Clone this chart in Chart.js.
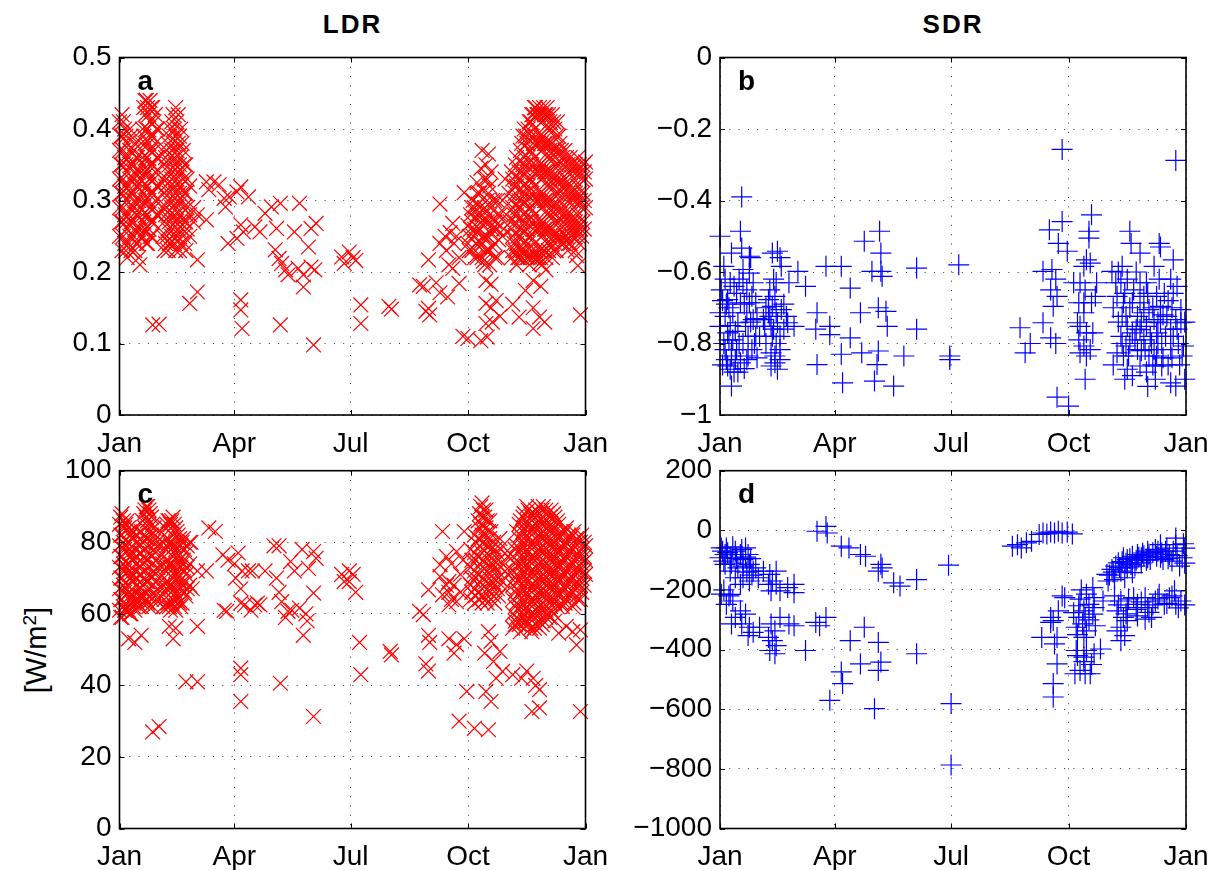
<!DOCTYPE html>
<html>
<head>
<meta charset="utf-8">
<title>LDR / SDR</title>
<script src="https://cdn.jsdelivr.net/npm/chart.js@4.4.0/dist/chart.umd.min.js"></script>
<style>
  body { margin: 0; background: #fff; width: 1222px; height: 870px; position: relative; overflow: hidden; font-family: "Liberation Sans", Arial, sans-serif; }
  canvas { position: absolute; }
  .ttl { position: absolute; top: 11px; transform: translateX(-50%); font-weight: bold; font-size: 26px; line-height: 26px; letter-spacing: 2px; }
  .ylab { position: absolute; left: 36px; top: 650px; transform: translate(-50%, -50%) rotate(-90deg); font-size: 29px; line-height: 29px; white-space: nowrap; }
  .ylab sup { font-size: 19px; line-height: 0; vertical-align: 0.5em; }
</style>
</head>
<body>
<div class="ttl" style="left:352.5px">LDR</div>
<div class="ttl" style="left:953px">SDR</div>
<div class="ylab">[W/m<sup>2</sup>]</div>
<canvas id="panelA" width="630" height="470" style="left:0;top:0"></canvas>
<canvas id="panelB" width="622" height="470" style="left:600px;top:0"></canvas>
<canvas id="panelC" width="630" height="430" style="left:0;top:440px"></canvas>
<canvas id="panelD" width="622" height="430" style="left:600px;top:440px"></canvas>
<script>
// x axis: day of year
const monthDays = [0, 90, 181, 273, 365];
const monthLabels = ['Jan', 'Apr', 'Jul', 'Oct', 'Jan'];

const ticksA = [0, 0.1, 0.2, 0.3, 0.4, 0.5];
const ticksB = [-1, -0.8, -0.6, -0.4, -0.2, 0];
const ticksC = [0, 20, 40, 60, 80, 100];
const ticksD = [-1000, -800, -600, -400, -200, 0, 200];

// each entry: [day, value, value, ...]
const ldrRatio = [
  [0,.41,.37,.33,.29,.25],[1,.39,.35,.31,.27],[2,.42,.39,.35,.31,.27,.23],[3,.41,.37,.33,.29,.25],
  [4,.40,.36,.32,.28,.24],[5,.39,.35,.31,.27,.23],[6,.38,.34,.30,.26,.22],[7,.36,.32,.28,.24],
  [8,.40,.37,.33,.29,.25],[9,.39,.35,.31,.27,.23],[10,.35,.31,.27],[11,.37,.33,.29,.25],
  [12,.38,.34,.30,.26,.23],[13,.36,.32,.28,.24],[14,.36,.32,.28,.24],[15,.34,.30,.26,.22],
  [16,.33,.29,.25,.21],[17,.38,.34,.30,.26],
  [18,.40,.36,.32,.28,.25],[19,.43,.39,.35,.31,.27],[20,.44,.42,.38,.34,.30,.26],
  [21,.44,.40,.36,.32,.28,.24],[22,.43,.40,.36,.32,.28,.24],[23,.42,.38,.34,.30,.26],
  [24,.44,.41,.37,.33,.29,.25],[25,.43,.39,.35,.31,.27,.25],[26,.43,.39,.35,.31,.27,.126],
  [27,.41,.37,.33,.29],[28,.42,.38,.34,.30],[29,.40,.36,.32,.28],
  [30,.40,.36,.32,.28],[31,.127],
  [34,.33,.29,.25],[35,.35,.31,.27,.23],[36,.36,.32,.28,.24],[37,.37,.33,.29,.25],
  [38,.38,.34,.30,.26,.23],[39,.39,.35,.31,.27,.24],[40,.40,.36,.32,.28,.24],
  [41,.41,.37,.33,.29,.25],[42,.42,.38,.34,.30,.26],[43,.40,.36,.32,.28,.24],
  [44,.43,.39,.35,.31,.27,.23],[45,.41,.37,.33,.29,.25],[46,.42,.38,.34,.30,.26],
  [47,.39,.35,.31,.27,.23],[48,.40,.36,.32,.28,.24],[49,.38,.34,.30,.26],[50,.37,.33,.29,.25],
  [51,.35,.31,.27,.24],[52,.35,.31,.27,.23],[53,.33,.29,.26],[55,.32,.28,.25,.156],[58,.29,.27],[61,.28,.217,.172],
  [68,.326,.273],[70,.315],[74,.326],[78,.322],[82,.303],[83,.291],[85,.24],[86,.305],
  [92,.312,.247],[95,.319,.266,.161,.147],[96,.121],[97,.256],[101,.305],[106,.263],
  [110,.256],[114,.282],[119,.291],[122,.231],[123,.261],[125,.219],[126,.296,.126],
  [127,.212],[130,.203],[132,.196],[137,.256],[140,.205],[141,.296],[144,.196,.179],
  [148,.235],[150,.261,.207],[152,.098],[153,.203],[154,.268],[174,.221],[176,.212],
  [180,.228],[183,.22],[185,.216],[189,.154,.128],[211,.152],[213,.148],
  [235,.182],[238,.18],[240,.145],[242,.217,.149],[243,.14],
  [248,.185],[251,.295,.24,.171],[255,.25],[256,.23],[257,.165],[258,.21],[259,.255],
  [261,.268,.205],[262,.24],[264,.25],[266,.184,.22],[269,.11],[270,.311],
  [273,.107,.265,.24],[274,.25,.23],[275,.28,.26],[276,.27,.23,.29],[277,.30,.25],
  [278,.26,.29,.22],[279,.275,.24],[280,.325,.255,.22,.28,.31],
  [281,.295],[282,.235,.26,.29,.31],[283,.345,.27,.104],[284,.37,.315,.24,.22,.28],[285,.25,.215],
  [286,.33,.29,.25,.27,.21],[287,.35,.23,.128,.156,.188],[288,.27,.109,.23,.25,.30,.33],
  [289,.365,.31],[290,.255,.21,.28,.23,.32],[291,.34,.29,.15,.183],
  [292,.235,.13,.26,.30],[293,.275],[294,.22,.24,.27,.30],[295,.26,.16],[296,.30,.22,.26,.28],
  [297,.245],[298,.28,.138],
  [300,.30,.25],[301,.26],[302,.33],[303,.28],[305,.31],[306,.27],
  [307,.34,.30,.26,.22],[308,.155,.33,.29,.25,.23],[309,.32,.28,.24],[310,.35,.31,.27,.23],
  [311,.36,.32,.28,.24,.21],[312,.33,.29,.25,.22],[313,.34,.30,.26,.22,.137],[314,.37,.33,.29,.25,.23],
  [315,.38,.34,.30,.26,.22],[316,.39,.35,.31,.27,.23],[317,.40,.36,.32,.28,.24],
  [318,.174,.39,.35,.31,.27,.23],[319,.38,.34,.30,.26,.22],[320,.40,.36,.32,.28,.24,.22],
  [321,.41,.37,.33,.29,.25,.21],[322,.41,.37,.33,.29,.25,.22],[323,.42,.39,.35,.31,.27,.23],
  [324,.121,.15,.188,.42,.38,.34,.30,.26,.22],
  [325,.43,.40,.36,.32,.28,.24],[326,.43,.39,.35,.31,.27,.23],[327,.42,.38,.34,.30,.26,.22],
  [328,.42,.38,.34,.30,.26,.22],[329,.43,.39,.35,.31,.27,.23,.212,.137],
  [330,.18,.42,.38,.34,.30,.26,.22],[331,.41,.37,.33,.29,.25,.21],[332,.43,.39,.35,.31,.27,.23],
  [333,.42,.38,.34,.30,.26,.23,.13],[334,.203,.42,.38,.34,.30,.26,.22],
  [335,.43,.40,.36,.32,.28,.24],[336,.42,.38,.34,.30,.26,.23],[337,.41,.37,.33,.29,.25],
  [338,.40,.36,.32,.28,.24],[339,.42,.38,.34,.30,.26,.22],[340,.41,.37,.33,.29,.25,.23],
  [341,.40,.36,.32,.28,.24],[342,.39,.35,.31,.27,.23],[343,.41,.37,.33,.29,.25],
  [344,.39,.35,.31,.27,.25],[345,.38,.34,.30,.26],[346,.37,.33,.29,.25],
  [347,.36,.32,.28,.24],[348,.35,.31,.27,.24],[349,.37,.33,.29,.25],[350,.36,.32,.28,.25],
  [351,.35,.31,.27,.23],[352,.34,.30,.26,.24],[353,.36,.32,.28,.24],[354,.35,.31,.27,.25],
  [355,.34,.30,.26],[356,.33,.29,.25],[357,.35,.31,.27,.23],[358,.223,.34,.30,.26],
  [359,.36,.32,.28,.25,.209],[360,.35,.31,.27,.24],
  [361,.34,.30,.26,.14],[362,.33,.29,.25],[363,.35,.31,.27],[364,.34,.30,.26],[365,.354,.33,.29]
];

const sdrRatio = [
  [0,-.50,-.714,-.752],[1,-.65],[2,-.68,-.86],[3,-.80,-.584],[4,-.62,-.724,-.817],[5,-.69,-.845],
  [6,-.77,-.677,-.863],[7,-.70,-.79],[8,-.63,-.75,-.872],[9,-.547,-.817,-.919,-.835],[10,-.714,-.79],
  [11,-.64,-.88],[12,-.766,-.845],[13,-.66,-.817],[14,-.742,-.88],[15,-.62,-.80],[16,-.486,-.686,-.854],
  [17,-.39,-.533],[18,-.593,-.80,-.63],[19,-.69,-.87],[20,-.752],[21,-.65,-.714,-.845],[22,-.78,-.835],
  [23,-.603,-.686,-.556],[24,-.74,-.56],[25,-.668,-.817],[26,-.63,-.733],[27,-.80],[28,-.686,-.78],
  [29,-.73,-.84],[31,-.78],[34,-.733],[35,-.752],[36,-.70,-.80],
  [38,-.677,-.714],[39,-.724,-.65],[40,-.752,-.826,-.863],[41,-.547,-.696,-.78],[42,-.76,-.62],
  [43,-.668,-.854,-.835],[44,-.714,-.80,-.63],[45,-.542,-.742,-.872],[47,-.56,-.817,-.845,-.78],
  [48,-.584,-.705],[50,-.69,-.76],
  [52,-.724],[53,-.742],[54,-.63],[58,-.752],[61,-.598],[67,-.64],
  [75,-.76],[76,-.714,-.859],[83,-.584],[86,-.752,-.775],[95,-.584,-.83],[96,-.91],
  [102,-.645,-.784],[110,-.714],[111,-.826],[113,-.514],[119,-.598],[121,-.905],[123,-.859],
  [124,-.70,-.821],[125,-.486],[126,-.547,-.598],[127,-.612],[130,-.71],[131,-.752],[136,-.919],
  [144,-.835],[154,-.589,-.76],
  [180,-.835,-.845],[187,-.58],
  [235,-.756],[239,-.826],[243,-.80],[253,-.598,-.742],[258,-.482],[259,-.65,-.784],[260,-.593],
  [261,-.696],[263,-.62,-.80],[264,-.668,-.95],[265,-.52],[268,-.257,-.459],[272,-.542],[273,-.975],
  [277,-.63],[280,-.742],[281,-.686,-.79],[282,-.63,-.752,-.826],[285,-.584,-.714,-.807,-.686],
  [286,-.65,-.90],[287,-.566,-.77,-.835],[289,-.486,-.505],[290,-.817,-.575],[291,-.44,-.686],
  [292,-.77],[294,-.668],[295,-.63],
  [307,-.598],[308,-.70,-.86],[310,-.63],[311,-.668,-.826],[312,-.74,-.60],[314,-.63,-.78],
  [315,-.724,-.584,-.80],[316,-.686,-.835],[317,-.66,-.90],
  [318,-.807,-.724],[319,-.752,-.872,-.62],[320,-.835],[321,-.486,-.80,-.70],[322,-.52],[323,-.77,-.89,-.686],
  [324,-.65],[325,-.79],[326,-.76,-.60],[327,-.724,-.817],[329,-.547,-.63,-.686,-.863,-.761],
  [330,-.82,-.74],[332,-.714,-.79,-.668],
  [333,-.817],[334,-.752,-.88,-.63],[335,-.66,-.92],[336,-.835,-.705],[337,-.78],[338,-.80],
  [339,-.70,-.86],[340,-.817,-.733,-.584],
  [341,-.863,-.90],[342,-.77,-.668,-.835],[343,-.74,-.80],[344,-.52,-.62],[345,-.53,-.696,-.742],
  [346,-.80,-.863],[347,-.84,-.72],
  [348,-.66],[349,-.78],[350,-.724],[351,-.68,-.86],[353,-.62,-.76,-.91,-.817],[354,-.70,-.84],
  [355,-.566,-.66,-.78],[357,-.288,-.919,-.733],[358,-.76,-.64],[359,-.80],[360,-.86],
  [361,-.742,-.705],[362,-.835],[363,-.807],[364,-.74,-.90]
];

const ldrFlux = [
  [0,85,79,73,67,61],[1,87,82,76,70,64,59],[2,88,82,76,70,64,59],[3,86,80,74,68,62],
  [4,84,78,72,66,61],[5,85,79,73,67,61],[6,86,80,74,68,62],[7,53,84,78,72,66,61],
  [8,83,77,71,65,60],[9,82,76,70,64,60],[10,81,75,69,63],[11,83,77,71,65,62],
  [12,84,78,72,66,61,52],[13,82,76,70,64],[14,80,74,68,63],[15,79,73,67,62],
  [16,77,71,65],[17,54,83,77,71,65,62],[18,86,80,74,68,63],[19,88,82,76,70,65],
  [20,89,84,78,72,66],[21,90,87,81,75,69,64],[22,90,86,81,75,69,63],[23,89,85,79,73,67,62],
  [24,88,83,77,71,65],[25,87,82,76,70,64],[26,85,80,74,68,62,27],[27,84,78,72,66],
  [28,82,77,71,65],[29,80,75,69,64],[30,79,73,67],[31,28.5],
  [34,80,74,68,62],[35,82,76,70,64],[36,84,78,72,66],[37,85,79,73,67,62],
  [38,86,81,75,69,63],[39,56.5,86,80,74,68,62],[40,85,79,73,67,61],[41,86,80,74,68,63],
  [42,87,82,76,70,64,53],[43,85,79,73,67,62],[44,84,78,72,66,61,56],[45,83,77,71,65],
  [46,82,76,70,64],[47,81,75,69,63],[48,79,73,67,62],[49,80,74,68,63],
  [50,81,75,69],[51,78,72,66],[52,77,71,65,41],[53,79,73,67],[55,80,74,68],[56,80],[57,67],[61,72,56.5,41],
  [68,72],[70,84],[75,83],[81,76.5],[82,61],[84,60.7],[85,75],[90,74],[91,70],[93,77],
  [95,67,63,44.8,43,35.5],[96,72],[98,62.5],[101,72],[103,61],[104,72],[106,62.5],[108,63],
  [110,62.5],[114,72],[121,79],[123,70],[125,79,66],[126,40.6],[127,63.4],[130,59],
  [132,60.7],[134,74.6],[135,61],[137,72],[141,61.6],[143,78],[144,54],[146,60],[147,58],
  [148,72.7],[152,77.4,65.8,31.3],[154,75.5],[174,71],[176,69],
  [180,72,69],[183,71],[185,66],[188,52],[189,43],[212,49.5],[213,48.5],
  [235,60.7],[238,59.8],[240,46],[242,66.7,54,44],[243,52],[251,73.7,70.4],[253,83,65.3],
  [256,76,68],[258,53,66,62.5,69],[260,74,64],[262,49,68],[264,51.4,77.4,63.4],[266,30],
  [267,71,66],[269,75],[270,83,53],[272,38.3],[278,28],[286,49],[287,38.3],[289,27.6,55],
  [291,35.5,52.3],[293,46.7],[295,42],[298,49.5],[300,43.9],
  [275,78,73,68,64],[276,75,70,66],[278,82,77,72,67,63],[279,80,75,70,65],
  [281,86,81,76,71,66],[282,88,84,79,74,69,64],[283,90,85],[284,91,87,82,77,72,67,63],
  [285,89,80,75,70,65],[286,87,82],[287,89,84,79,74,69,64],[288,86,77,72,67,63],[289,83,79],
  [290,86,81,76,71,66],[291,83,78,73,68,64],[292,74,69],[293,80,75,70,65],[294,78,73,68,63],
  [296,77,72,67],[297,75,70,65],[298,81],[300,79,74,69],[302,77,72,67],[304,76,71],
  [308,76,72,68,64,60,56,43],[310,57,78,74,70,66,62,58],[311,83,79,75,71,67,63,59],
  [313,85,81,77,73,69,65,61,57],[314,86,82,78,74,70,66,62,58,55],
  [315,42],[316,87,83,79,75,71,67,63,59],[317,88,84,80,76,72,68,64,60,56],[318,58],
  [319,44,90,86,82,78,74,70,66,62,58],[320,89,85,81,77,73,69,65,61,57],
  [322,88,84,80,76,72,68,64,60,56],[323,87,83,79,75,71,67,63,59,55,32.7],[324,42],
  [325,88,84,80,76,72,68,64,60,56],[326,89,85,81,77,73,69,65,61,57,40],
  [328,90,86,82,78,74,70,66,62,58],[329,88,84,80,76,72,68,64,60,56,38.8,33.7],
  [331,89,85,81,77,73,69,65,61,57],[332,90,86,82,78,74,70,66,62,58],
  [334,89,85,81,77,73,69,65,61,59],[335,88,84,80,76,72,68,64,60],
  [337,87,83,79,75,71,67,63,59],[338,89,85,81,77,73,69,65,61],
  [340,88,84,80,76,72,68,64,60],[341,87,83,79,75,71,67,63,58],
  [343,86,82,78,74,70,66,62],[344,85,81,77,73,69,65,54.6],
  [346,83,79,75,71,67,63],[347,82,78,74,70,66,62],[349,83,79,75,71,67,63],
  [350,84,80,76,72,68,64,56.5],[352,82,78,74,70,66],[353,81,77,73,69,65],
  [355,55,82,78,74,70,66,62],[356,83,79,75,71,67,63],[358,51.3,81,77,73,69,65],
  [359,80,76,72,68,64],[361,55.5,32.7,80,76,72,68,64],[362,82,78,74,70,66],
  [364,80,76,72,68],[365,79,75,71]
];

const sdrFlux = [
  [0,-92],[1,-59,-214],[2,-70],[3,-103,-200],[4,-81,-114],[5,-59,-248],[6,-75],[7,-220],
  [8,-92,-137,-215],[9,-110,-314],[10,-55,-237],[12,-70,-159,-292],[13,-95],[14,-126],
  [16,-81,-181,-270],[17,-64,-314],[18,-98,-159,-120],[20,-59,-90,-281],[21,-140],[22,-81,-353],
  [23,-114,-170,-325],[24,-95],[25,-150],[26,-137,-342],[28,-126],[30,-159],[31,-325],[34,-137],
  [38,-181,-359],[39,-148,-403],[40,-203,-314],[41,-170,-370],[43,-337,-414],[44,-137,-181,-387],
  [47,-203,-292],[53,-192],[54,-314],[58,-209,-181,-320],[67,-403],[75,-309],[76,-3],[78,-320],
  [83,13,-292],[84,-9],[86,-570],[95,-53,-475],[96,-514],[101,-59],[102,-370],[110,-81,-448],
  [113,-325],[114,-87],[121,-598],[124,-137,-376,-470],[126,-114,-442],[127,-126],[136,-176],
  [141,-187],[154,-165,-414],
  [179,-117],[181,-581,-787],
  [229,-53],[233,-48],[236,-59],[240,-42],[244,-37],[250,-14],[253,-9],[256,-12],[259,-6],
  [262,-9],[265,-3],[268,-9],[272,-6],[276,-12],
  [252,-359],[259,-292,-309],[261,-303,-514,-559],[262,-381],[264,-359,-448],[265,-270],
  [268,-220],[270,-226],
  [277,-276],[278,-481],[279,-325,-403],[280,-350,-420],[281,-292,-253],[282,-231,-470],
  [283,-200],[284,-314],[285,-270,-359,-425,-440],[286,-292,-481],[287,-214,-337,-403],
  [289,-248,-300],[290,-481],[291,-450],[292,-192,-281],[293,-259,-226,-414],[294,-320],
  [298,-398],[300,-237],
  [303,-148],[304,-170],[305,-150],[307,-131],[308,-140],[309,-165,-220],[310,-120],
  [311,-270,-337],[312,-109,-250],[313,-125],[314,-137,-237,-325,-370],[315,-105],
  [316,-92,-292],[317,-159,-353],[318,-110,-280],[319,-98,-126,-259,-303],[320,-230],[321,-95],
  [322,-115],[323,-87,-142],[324,-226],[325,-120],[326,-100,-265],
  [327,-81,-248,-287],[328,-90],[330,-109,-92,-240],[331,-76],[332,-85],[333,-226,-298],[334,-100],
  [335,-70,-92,-259],[336,-80,-275],[337,-98],[338,-292],[339,-75,-250],[341,-64,-237],[342,-87],
  [343,-70,-230],[344,-214],[345,-48,-90],[346,-76],[347,-98],[348,-248],
  [349,-70],[350,-60,-245],[351,-95],[352,-81,-226],[354,-103,-220],[355,-70],[356,-203],
  [357,-48,-26,-248],[358,-85],[359,-260],[360,-120],[361,-237],
  [362,-92],[363,-45],[364,-110,-60,-250]
];

const tickFont = { family: '"Liberation Sans", Arial, sans-serif', size: 28 };

function toPoints(cols) {
  const pts = [];
  cols.forEach(c => {
    for (let i = 1; i < c.length; i++) pts.push({ x: c[0], y: c[i] });
  });
  return pts;
}

function fmt(v) {
  const s = String(Math.abs(Number(v.toFixed(2))));
  return v < 0 ? '\u2212' + s : s;
}

// box, inward ticks and panel letter
const frame = {
  id: 'frame',
  afterDatasetsDraw(chart, args, opts) {
    const { ctx, chartArea: a, scales: { x, y } } = chart;
    ctx.save();
    ctx.setLineDash([]);
    ctx.strokeStyle = '#000';
    ctx.lineWidth = 1;
    ctx.beginPath();
    x.ticks.forEach(t => {
      const px = Math.round(x.getPixelForValue(t.value)) + 0.5;
      ctx.moveTo(px, a.bottom); ctx.lineTo(px, a.bottom - 5);
      ctx.moveTo(px, a.top); ctx.lineTo(px, a.top + 5);
    });
    y.ticks.forEach(t => {
      const py = Math.round(y.getPixelForValue(t.value)) + 0.5;
      ctx.moveTo(a.left, py); ctx.lineTo(a.left + 5, py);
      ctx.moveTo(a.right, py); ctx.lineTo(a.right - 5, py);
    });
    ctx.stroke();
    ctx.lineWidth = 1.6;
    ctx.strokeRect(a.left, a.top, a.right - a.left, a.bottom - a.top);
    ctx.fillStyle = '#000';
    ctx.font = 'bold 28px "Liberation Sans", Arial, sans-serif';
    ctx.textBaseline = 'alphabetic';
    ctx.fillText(opts.letter, a.left + 18, a.top + 32);
    ctx.restore();
  }
};

function makePanel(id, cols, marker, color, yTicks, p) {
  new Chart(document.getElementById(id), {
    type: 'scatter',
    data: {
      datasets: [{
        data: toPoints(cols),
        pointStyle: marker,
        pointRadius: 10.5,
        pointHoverRadius: 10.5,
        borderColor: color,
        backgroundColor: color,
        hoverBorderColor: color,
        borderWidth: 1.2,
        clip: false
      }]
    },
    options: {
      responsive: false,
      animation: false,
      events: [],
      layout: { padding: { top: p.top, right: p.right, left: 0, bottom: 0 } },
      plugins: { legend: { display: false }, tooltip: { enabled: false }, frame: { letter: p.letter } },
      scales: {
        x: {
          type: 'linear', min: 0, max: 365,
          afterBuildTicks: s => { s.ticks = monthDays.map(v => ({ value: v })); },
          afterFit: s => { s.height = p.xh; },
          grid: { color: '#333', lineWidth: 1, drawTicks: false },
          border: { display: false, dash: [1, 8.3] },
          ticks: { callback: (v, i) => monthLabels[i], font: tickFont, color: '#000', padding: 12, maxRotation: 0, autoSkip: false }
        },
        y: {
          min: yTicks[0], max: yTicks[yTicks.length - 1],
          afterBuildTicks: s => { s.ticks = yTicks.map(v => ({ value: v })); },
          afterFit: s => { s.width = p.yw; },
          grid: { color: '#333', lineWidth: 1, drawTicks: false },
          border: { display: false, dash: [1, 8.3] },
          ticks: { callback: v => fmt(v), font: tickFont, color: '#000', padding: 8 }
        }
      }
    },
    plugins: [frame]
  });
}

makePanel('panelA', ldrRatio, 'crossRot', '#ff0000', ticksA, { top: 57.5, right: 44.5, xh: 55, yw: 119.5, letter: 'a' });
makePanel('panelB', sdrRatio, 'cross', '#0000ff', ticksB, { top: 57.5, right: 36, xh: 55, yw: 120, letter: 'b' });
makePanel('panelC', ldrFlux, 'crossRot', '#ff0000', ticksC, { top: 30.7, right: 44.5, xh: 41.5, yw: 119.5, letter: 'c' });
makePanel('panelD', sdrFlux, 'cross', '#0000ff', ticksD, { top: 30.7, right: 36, xh: 41.5, yw: 120, letter: 'd' });
</script>
</body>
</html>
